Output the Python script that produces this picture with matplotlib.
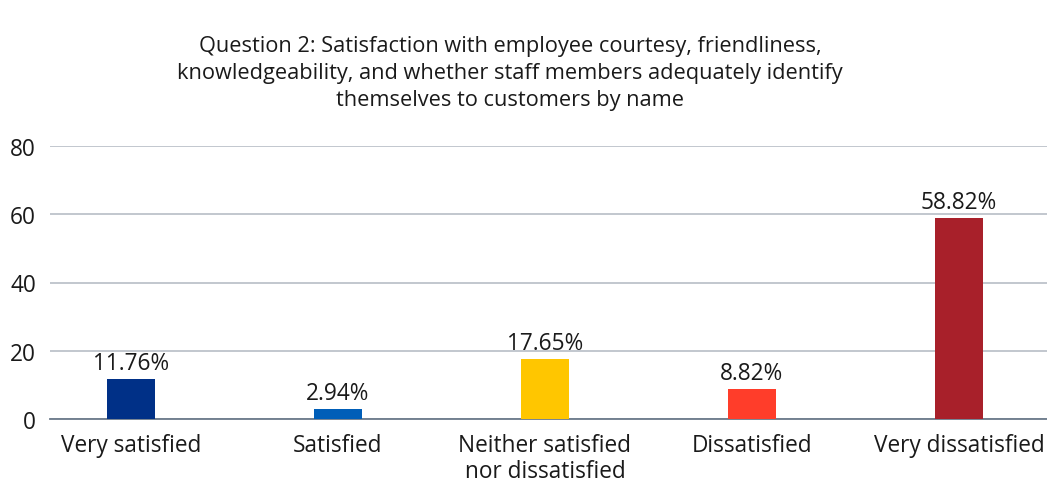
import matplotlib
matplotlib.use("Agg")
import matplotlib.pyplot as plt

categories = ["Very satisfied", "Satisfied", "Neither satisfied\nnor dissatisfied",
              "Dissatisfied", "Very dissatisfied"]
percentages = [11.76, 2.94, 17.65, 8.82, 58.82]
bar_colors = ["#003087", "#005EB8", "#FFC600", "#FF3D2A", "#A8202A"]
y_ticks = [0, 20, 40, 60, 80]
title = ("Question 2: Satisfaction with employee courtesy, friendliness,\n"
         "knowledgeability, and whether staff members adequately identify\n"
         "themselves to customers by name")

plt.rcParams["font.family"] = ["Open Sans", "DejaVu Sans"]

fig = plt.figure(figsize=(10.47, 4.89), dpi=100)
ax = fig.add_axes([50 / 1047, 69 / 489, 997 / 1047, 273 / 489])

x = list(range(len(categories)))
ax.bar(x, percentages, width=0.235, color=bar_colors, zorder=3)

for xi, v in zip(x, percentages):
    ax.annotate(f"{v:.2f}%", (xi, v), xytext=(0, 3), textcoords="offset points",
                ha="center", va="bottom", fontsize=16.3, color="#1a1a1a")

ax.set_xlim(-0.391, 4.425)
ax.set_ylim(0, 80)
ax.set_yticks(y_ticks)
ax.set_xticks(x)
ax.set_xticklabels(categories, fontsize=16.3, color="#1a1a1a", linespacing=1.1)
ax.tick_params(axis="y", labelsize=16.3, labelcolor="#1a1a1a", length=0, pad=10)
ax.tick_params(axis="x", length=0, pad=10)

ax.grid(axis="y", color="#B8BDC6", linewidth=1.2, zorder=0)
for side in ["top", "right", "left"]:
    ax.spines[side].set_visible(False)
ax.spines["bottom"].set_color("#6B7A8A")
ax.spines["bottom"].set_linewidth(1.3)

fig.text(510 / 1047, 1 - 36 / 489, title, ha="center", va="top",
         fontsize=15.7, color="#1a1a1a", linespacing=1.38)

fig.savefig("out.png", dpi=100)
